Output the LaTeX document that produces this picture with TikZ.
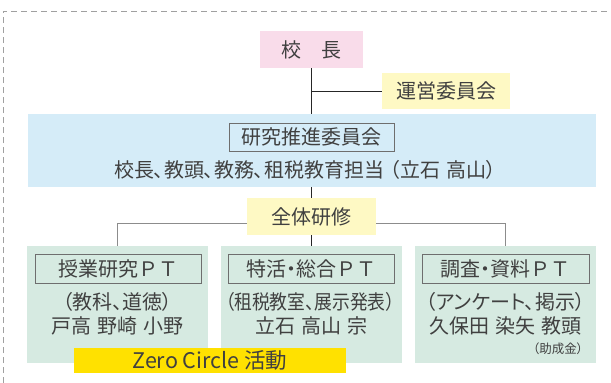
\documentclass[tikz,border=0pt]{standalone}
\usepackage{fontspec}
\setmainfont[RawFeature=+palt]{Noto Sans CJK JP}
\newfontfamily\fwfont{Noto Sans CJK JP}
\usetikzlibrary{backgrounds}
\definecolor{txt}{HTML}{404040}
\definecolor{pinkbox}{HTML}{F9DCEA}
\definecolor{paleyel}{HTML}{FEF9C4}
\definecolor{bluebox}{HTML}{D5ECF8}
\definecolor{greenbox}{HTML}{D6EAE1}
\definecolor{strongyel}{HTML}{FFE100}
\definecolor{framegray}{HTML}{6E6E6E}
\definecolor{branchgray}{HTML}{8C8C8C}
\definecolor{dashgray}{HTML}{A0A0A0}
\newcommand{\gap}{\hspace{0.3em}}
\newcommand{\ptxt}{{\fwfont ＰＴ}}
\begin{document}
\begin{tikzpicture}[x=1pt,y=-1pt,
  every node/.style={inner sep=0pt, outer sep=0pt, text=txt, font=\fontsize{20}{22}\selectfont},
  frame/.style={draw=framegray, line width=0.8pt},
  conn/.style={draw=black!85, line width=0.9pt},
  gconn/.style={draw=branchgray, line width=0.9pt},
  dashline/.style={draw=dashgray, line width=0.7pt, dash pattern=on 6pt off 4pt}]
\useasboundingbox (0,0) rectangle (611,383);
\draw[dashline] (3,383) -- (3,11) -- (611,11);
% top
\node[fill=pinkbox, minimum width=103pt, minimum height=37pt] (kocho) at (311.5,49.5) {校　長};
\node[fill=paleyel, minimum width=128pt, minimum height=36pt] (unei) at (446,91) {運営委員会};
% blue committee
\node[fill=bluebox, minimum width=568pt, minimum height=73pt] (ken) at (312,150.5) {};
\node[frame, minimum width=165pt, minimum height=28pt] (kenf) at (311.5,137) {研究推進委員会};
\node (kenm) at (305,170) {校長、教頭、教務、租税教育担当\gap（立石\gap 高山）};
% all training
\node[fill=paleyel, minimum width=129pt, minimum height=37pt] (zen) at (311.5,216.5) {全体研修};
% bottom groups
\node[fill=greenbox, minimum width=181pt, minimum height=117pt] (g1) at (117.5,304.5) {};
\node[fill=greenbox, minimum width=181pt, minimum height=117pt] (g2) at (311.5,304.5) {};
\node[fill=greenbox, minimum width=181pt, minimum height=117pt] (g3) at (505.5,304.5) {};
\node[frame, minimum width=166pt, minimum height=29pt] (g1f) at (118,268.5) {授業研究\ptxt};
\node[frame, minimum width=166pt, minimum height=29pt] (g2f) at (311,268.5) {特活・総合\ptxt};
\node[frame, minimum width=167pt, minimum height=29pt] (g3f) at (505.5,268.5) {調査・資料\ptxt};
\node (g1a) at (117.5,302) {（教科、道徳）};
\node (g1b) at (117.5,326) {戸高\gap 野崎\gap 小野};
\node (g2a) at (310,302) {\scalebox{0.89}[1]{（租税教室、展示発表）}};
\node (g2b) at (311.5,326) {立石\gap 高山\gap 宗};
\node (g3a) at (505.5,302) {（アンケート、掲示）};
\node (g3b) at (505.5,326) {久保田\gap 染矢\gap 教頭};
\node[anchor=east, font=\fontsize{12.5}{14}\selectfont] (g3c) at (583,349) {（助成金）};
\node[fill=strongyel, minimum width=272pt, minimum height=25pt, font=\fontsize{21.5}{22}\selectfont] (zero) at (210,360.5) {Zero Circle 活動};
% connectors
\begin{scope}[on background layer]
\coordinate (bl) at (117.5,223);
\draw[gconn] (g1.north) -- (g1.north |- bl) -- (g3.north |- bl) -- (g3.north);
\draw[conn] (kocho.south) -- (g2.north);
\draw[conn] (kocho.south |- unei.west) -- (unei.west);
\end{scope}
\end{tikzpicture}
\end{document}
